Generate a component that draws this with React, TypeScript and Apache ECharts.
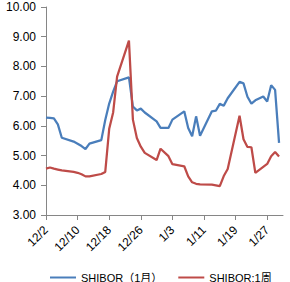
import React, { useEffect, useRef } from "react";
import * as echarts from "echarts";

const dates = [
  "12/2", "12/3", "12/4", "12/5", "12/6", "12/7", "12/8", "12/9", "12/10", "12/11",
  "12/12", "12/13", "12/14", "12/15", "12/16", "12/17", "12/18", "12/19", "12/20", "12/21",
  "12/22", "12/23", "12/24", "12/25", "12/26", "12/27", "12/28", "12/29", "12/30", "12/31",
  "1/1", "1/2", "1/3", "1/4", "1/5", "1/6", "1/7", "1/8", "1/9", "1/10",
  "1/11", "1/12", "1/13", "1/14", "1/15", "1/16", "1/17", "1/18", "1/19", "1/20",
  "1/21", "1/22", "1/23", "1/24", "1/25", "1/26", "1/27", "1/28", "1/29", "1/30",
  "1/31",
];

const shibor1M = [
  6.28, 6.27, 6.25, 6.05, 5.6, null, null, 5.47, 5.4, 5.32,
  5.22, 5.4, null, null, 5.52, 6.2, 6.75, 7.15, 7.5, null,
  null, 7.63, 6.65, 6.52, 6.58, 6.45, null, null, 6.15, 5.93,
  null, 5.93, 6.21, null, null, 6.49, 5.93, 5.65, 6.32, 5.67,
  null, null, 6.49, 6.51, 6.74, 6.68, 6.93, null, null, 7.48,
  7.43, 6.98, 6.75, 6.86, null, 6.99, 6.82, 7.37, 7.21, 5.43,
  null,
];

const shibor1W = [
  4.56, 4.6, 4.56, 4.53, 4.5, null, null, 4.45, 4.42, 4.37,
  4.3, 4.3, null, null, 4.38, 4.45, 5.9, 6.45, 7.66, null,
  null, 8.87, 6.21, 5.59, 5.3, 5.09, null, null, 4.85, 5.23,
  null, 4.98, 4.71, null, null, 4.64, 4.3, 4.1, 4.05, 4.03,
  null, null, 4.02, 4.0, 3.97, 4.31, 4.55, null, null, 6.34,
  5.55, 5.29, 5.28, 4.42, null, 4.62, 4.72, 4.98, 5.12, 4.97,
  null,
];

const seriesNames = ["SHIBOR（1月）", "SHIBOR:1周"];

export default function App() {
  const ref = useRef<HTMLDivElement>(null);
  useEffect(() => {
    if (!ref.current) return;
    const chart = echarts.init(ref.current, null, { renderer: "svg" });
    const font = "'Liberation Sans', Arial, 'Noto Sans CJK SC', sans-serif";
    chart.setOption({
      animation: false,
      grid: { left: 46, right: 7, top: 7, bottom: 67, containLabel: false },
      legend: {
        left: 45,
        top: 267,
        itemWidth: 26,
        itemHeight: 10,
        itemGap: 16,
        textStyle: { fontSize: 11, color: "#000", fontFamily: font },
        data: seriesNames.map((n) => ({ name: n, icon: "path://M0,4 L26,4 L26,6 L0,6 Z" })),
      },
      xAxis: {
        type: "category",
        data: dates,
        boundaryGap: false,
        axisLine: { lineStyle: { color: "#868686", width: 1 } },
        axisTick: { show: true, interval: 7, length: 5, lineStyle: { color: "#868686" } },
        axisLabel: {
          interval: 7,
          rotate: 45,
          margin: 13,
          fontSize: 12,
          color: "#000",
          fontFamily: font,
        },
        splitLine: { show: false },
      },
      yAxis: {
        type: "value",
        min: 3,
        max: 10,
        interval: 1,
        axisLine: { show: true, lineStyle: { color: "#868686", width: 1 } },
        axisTick: { show: true, length: 5, lineStyle: { color: "#868686" } },
        axisLabel: {
          margin: 10,
          fontSize: 12,
          color: "#000",
          fontFamily: font,
          formatter: (v: number) => v.toFixed(2),
        },
        splitLine: { show: false },
      },
      series: [
        {
          name: seriesNames[0],
          type: "line",
          data: shibor1M,
          connectNulls: true,
          symbol: "none",
          lineStyle: { color: "#4A7EBB", width: 2.25 },
          itemStyle: { color: "#4A7EBB" },
        },
        {
          name: seriesNames[1],
          type: "line",
          data: shibor1W,
          connectNulls: true,
          symbol: "none",
          lineStyle: { color: "#BE4B48", width: 2.25 },
          itemStyle: { color: "#BE4B48" },
        },
      ],
    });
    return () => chart.dispose();
  }, []);
  return <div ref={ref} style={{ width: 290, height: 282, position: "absolute", left: 0, top: 0 }} />;
}
